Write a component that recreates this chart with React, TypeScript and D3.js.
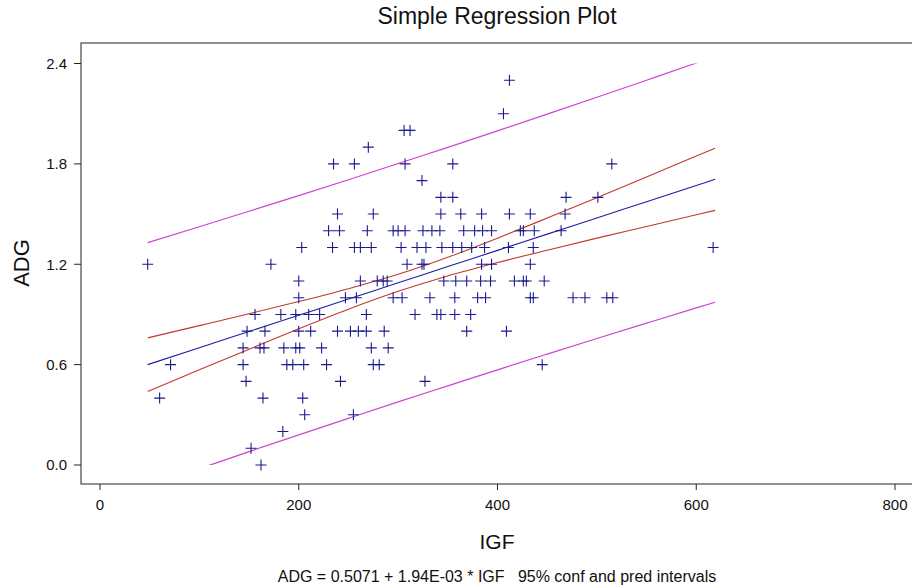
import React, { useEffect, useRef } from 'react';
import * as d3 from 'd3';

// observations, grouped by ADG row: [IGF, ADG]
const points: [number, number][] = [
  [162, 0.0], [152, 0.1], [184, 0.2], [206, 0.3], [255, 0.3],
  [60, 0.4], [164, 0.4], [204, 0.4],
  [147, 0.5], [242, 0.5], [327, 0.5],
  [71, 0.6], [144, 0.6], [188, 0.6], [194, 0.6], [205, 0.6], [228, 0.6], [275, 0.6], [281, 0.6], [445, 0.6],
  [144, 0.7], [161, 0.7], [165, 0.7], [185, 0.7], [197, 0.7], [201, 0.7], [223, 0.7], [273, 0.7], [290, 0.7],
  [148, 0.8], [166, 0.8], [200, 0.8], [212, 0.8], [239, 0.8], [252, 0.8], [260, 0.8], [268, 0.8], [286, 0.8], [369, 0.8], [409, 0.8],
  [156, 0.9], [182, 0.9], [197, 0.9], [210, 0.9], [221, 0.9], [268, 0.9], [317, 0.9], [339, 0.9], [343, 0.9], [357, 0.9], [373, 0.9],
  [200, 1.0], [247, 1.0], [258, 1.0], [295, 1.0], [304, 1.0], [332, 1.0], [357, 1.0], [380, 1.0], [388, 1.0], [433, 1.0], [436, 1.0], [476, 1.0], [488, 1.0], [510, 1.0], [516, 1.0],
  [200, 1.1], [262, 1.1], [279, 1.1], [285, 1.1], [289, 1.1], [346, 1.1], [358, 1.1], [369, 1.1], [383, 1.1], [393, 1.1], [417, 1.1], [426, 1.1], [429, 1.1], [447, 1.1],
  [48, 1.2], [172, 1.2], [309, 1.2], [324, 1.2], [326, 1.2], [384, 1.2], [394, 1.2], [433, 1.2],
  [203, 1.3], [234, 1.3], [256, 1.3], [262, 1.3], [273, 1.3], [303, 1.3], [319, 1.3], [328, 1.3], [344, 1.3], [355, 1.3], [364, 1.3], [374, 1.3], [387, 1.3], [411, 1.3], [436, 1.3], [617, 1.3],
  [230, 1.4], [241, 1.4], [269, 1.4], [295, 1.4], [300, 1.4], [307, 1.4], [325, 1.4], [334, 1.4], [342, 1.4], [366, 1.4], [377, 1.4], [385, 1.4], [394, 1.4], [423, 1.4], [426, 1.4], [437, 1.4], [464, 1.4],
  [239, 1.5], [275, 1.5], [343, 1.5], [363, 1.5], [384, 1.5], [412, 1.5], [433, 1.5], [468, 1.5],
  [343, 1.6], [355, 1.6], [469, 1.6], [501, 1.6],
  [324, 1.7],
  [235, 1.8], [256, 1.8], [307, 1.8], [355, 1.8], [515, 1.8],
  [270, 1.9], [306, 2.0], [312, 2.0], [406, 2.1], [412, 2.3],
];

// fitted line and interval bands
const bandIGF = [48, 100, 150, 200, 250, 300, 350, 400, 450, 500, 550, 600, 619];
const fitADG = [0.600, 0.701, 0.798, 0.895, 0.992, 1.089, 1.186, 1.283, 1.380, 1.477, 1.574, 1.671, 1.708];
const confLow = [0.440, 0.569, 0.692, 0.814, 0.931, 1.038, 1.130, 1.210, 1.284, 1.356, 1.426, 1.496, 1.522];
const confHigh = [0.760, 0.833, 0.904, 0.977, 1.054, 1.140, 1.242, 1.356, 1.476, 1.598, 1.722, 1.847, 1.894];
const predLow = [-0.128, -0.022, 0.080, 0.180, 0.279, 0.377, 0.473, 0.569, 0.663, 0.756, 0.848, 0.939, 0.973];
const predHigh = [1.329, 1.424, 1.517, 1.610, 1.705, 1.802, 1.899, 1.997, 2.097, 2.198, 2.300, 2.403, 2.443];

const igfTicks = [0, 200, 400, 600, 800];
const adgTicks = [0.0, 0.6, 1.2, 1.8, 2.4];

const W = 912;
const H = 588;
const FONT = 'Arial, "Liberation Sans", Helvetica, sans-serif';

const App = () => {
  const ref = useRef<SVGSVGElement>(null);

  useEffect(() => {
    if (!ref.current) return;
    const svg = d3.select(ref.current);
    svg.selectAll('*').remove();

    const x = d3.scaleLinear().domain([0, 800]).range([100, 895]);
    const y = d3.scaleLinear().domain([0, 2.4]).range([465, 63.5]);

    const frame = { left: 81, top: 43, right: 916, bottom: 484 };

    svg.append('rect').attr('width', W).attr('height', H).attr('fill', 'white');

    svg.append('defs').append('clipPath').attr('id', 'band-clip')
      .append('rect')
      .attr('x', frame.left).attr('y', y(2.4))
      .attr('width', frame.right - frame.left).attr('height', y(0) - y(2.4));

    // frame
    svg.append('rect')
      .attr('x', frame.left).attr('y', frame.top)
      .attr('width', frame.right - frame.left).attr('height', frame.bottom - frame.top)
      .attr('fill', 'none').attr('stroke', '#222').attr('stroke-width', 1);

    // y axis
    const yAxis = svg.append('g');
    adgTicks.forEach(t => {
      yAxis.append('line')
        .attr('x1', frame.left - 7).attr('x2', frame.left)
        .attr('y1', y(t)).attr('y2', y(t))
        .attr('stroke', '#222');
      yAxis.append('text')
        .attr('x', frame.left - 14).attr('y', y(t)).attr('dy', '0.36em')
        .attr('text-anchor', 'end')
        .attr('font-size', 15).attr('font-family', FONT).attr('fill', '#111')
        .text(t.toFixed(1));
    });

    // x axis
    const xAxis = svg.append('g');
    igfTicks.forEach(t => {
      xAxis.append('line')
        .attr('x1', x(t)).attr('x2', x(t))
        .attr('y1', frame.bottom).attr('y2', frame.bottom + 6)
        .attr('stroke', '#222');
      xAxis.append('text')
        .attr('x', x(t)).attr('y', 510)
        .attr('text-anchor', 'middle')
        .attr('font-size', 15).attr('font-family', FONT).attr('fill', '#111')
        .text(t);
    });

    // lines
    const band = (vals: number[]) =>
      d3.line<number>()
        .x((_, i) => x(bandIGF[i]))
        .y(d => y(d))
        .curve(d3.curveMonotoneX)(vals);

    const lines = svg.append('g').attr('clip-path', 'url(#band-clip)').attr('fill', 'none');
    lines.append('path').attr('d', band(predLow)).attr('stroke', '#cc44cc').attr('stroke-width', 1.2);
    lines.append('path').attr('d', band(predHigh)).attr('stroke', '#cc44cc').attr('stroke-width', 1.2);
    lines.append('path').attr('d', band(confLow)).attr('stroke', '#c0392b').attr('stroke-width', 1.1);
    lines.append('path').attr('d', band(confHigh)).attr('stroke', '#c0392b').attr('stroke-width', 1.1);
    lines.append('path').attr('d', band(fitADG)).attr('stroke', '#1c1ca8').attr('stroke-width', 1.1);

    // observations
    const s = 5.5;
    svg.append('g')
      .selectAll('path')
      .data(points)
      .enter()
      .append('path')
      .attr('d', d => {
        const px = x(d[0]);
        const py = y(d[1]);
        return `M${px - s},${py}H${px + s}M${px},${py - s}V${py + s}`;
      })
      .attr('stroke', '#1a1a90')
      .attr('stroke-width', 1.1)
      .attr('fill', 'none');

    // titles
    svg.append('text')
      .attr('x', 497).attr('y', 24)
      .attr('text-anchor', 'middle')
      .attr('font-size', 23).attr('font-family', FONT).attr('fill', '#111')
      .text('Simple Regression Plot');

    svg.append('text')
      .attr('x', 497).attr('y', 549)
      .attr('text-anchor', 'middle')
      .attr('font-size', 21).attr('font-family', FONT).attr('fill', '#111')
      .text('IGF');

    svg.append('text')
      .attr('transform', 'translate(29,263) rotate(-90)')
      .attr('text-anchor', 'middle')
      .attr('font-size', 22).attr('font-family', FONT).attr('fill', '#111')
      .text('ADG');

    svg.append('text')
      .attr('x', 497).attr('y', 582)
      .attr('text-anchor', 'middle')
      .attr('font-size', 16).attr('font-family', FONT).attr('fill', '#111')
      .attr('xml:space', 'preserve')
      .style('white-space', 'pre')
      .text('ADG = 0.5071 + 1.94E-03 * IGF   95% conf and pred intervals');
  }, []);

  return (
    <svg
      ref={ref}
      width={W}
      height={H}
      style={{ position: 'absolute', left: 0, top: 0, display: 'block' }}
    />
  );
};

export default App;
